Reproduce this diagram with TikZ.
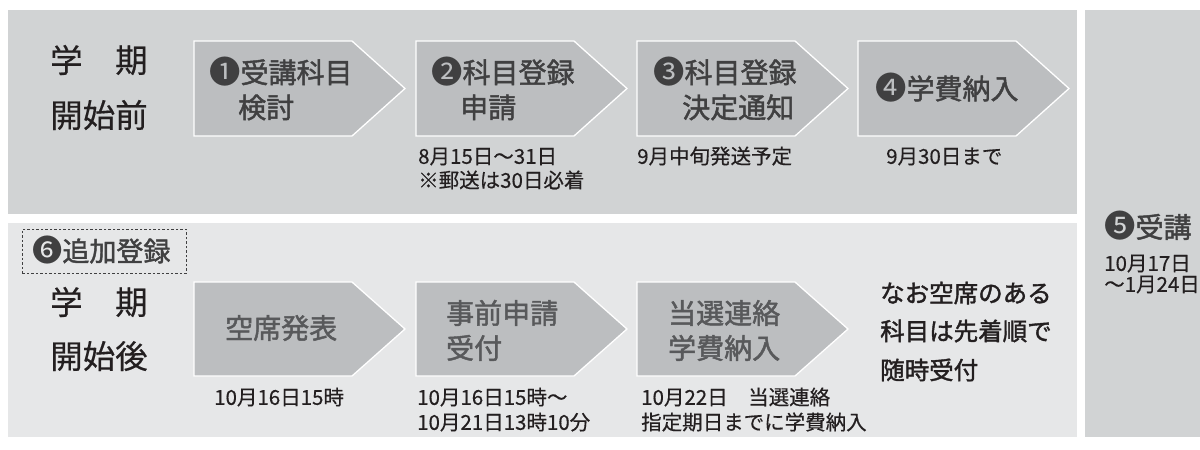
\documentclass[tikz,border=0pt]{standalone}
\usepackage{graphicx}
\usepackage{fontspec}
\setmainfont{Noto Sans CJK JP}[FakeBold=0.4]
\newfontfamily\medfont{Noto Sans CJK JP}[FakeBold=1.6]
\newfontfamily\cdfont{Noto Sans CJK JP}
\definecolor{panelA}{HTML}{D1D3D4}
\definecolor{panelB}{HTML}{E6E7E8}
\definecolor{chev}{HTML}{BCBEC0}
\definecolor{ink}{HTML}{231F20}
\definecolor{inkA}{HTML}{404041}
\definecolor{inkB}{HTML}{58595B}
\newcommand{\fs}[1]{\fontsize{#1}{#1}\selectfont}
\newcommand{\cdig}[1]{{\cdfont\scalebox{1.12}{#1}}}
\begin{document}
\begin{tikzpicture}[x=1pt,y=-1pt,
  txt/.style={inner sep=0pt,anchor=base west,text=ink},
  head/.style={txt,font=\fs{32.5}},
  chtxtA/.style={txt,font=\medfont\fs{28},text=inkA},
  chtxtB/.style={txt,font=\medfont\fs{28},text=inkB},
  datetxt/.style={txt,font=\fs{20.5}},
  note/.style={txt,font=\medfont\fs{24.5}},
  chevron/.style={fill=chev,draw=white,line width=1.3pt,line join=miter}]
\useasboundingbox (0,0) rectangle (1200,450);
\fill[white] (0,0) rectangle (1200,450);
% panels
\fill[panelA] (8,10) rectangle (1077,214);
\fill[panelB] (8,223) rectangle (1077,437);
\fill[panelA] (1085,10) rectangle (1210,437);
% chevrons
\foreach \x in {194,416,637,858}{
  \draw[chevron] (\x,41) -- (\x+158,41) -- (\x+211,88.5) -- (\x+158,136) -- (\x,136) -- cycle;
}
\foreach \x in {194,416,637}{
  \draw[chevron] (\x,282) -- (\x+158,282) -- (\x+211,329) -- (\x+158,376) -- (\x,376) -- cycle;
}
% headings
\node[head] (h1) at (50,72.4) {学　期};
\node[head] (h2) at (50,127.4) {開始前};
\node[head] (h3) at (50,314.4) {学　期};
\node[head] (h4) at (50,368.4) {開始後};
% top chevron texts
\node[chtxtA] (c1a) at (209,83) {\cdig{❶}受講科目};
\node[chtxtA] (c1b) at (238,118) {検討};
\node[chtxtA] (c2a) at (431,83) {\cdig{❷}科目登録};
\node[chtxtA] (c2b) at (460,118) {申請};
\node[chtxtA] (c3a) at (653,83) {\cdig{❸}科目登録};
\node[chtxtA] (c3b) at (682,118) {決定通知};
\node[chtxtA] (c4a) at (875,99.1) {\cdig{❹}学費納入};
% top dates
\node[datetxt] (d2a) at (418,163.8) {8月15日～31日};
\node[datetxt] (d2b) at (418,187.8) {※郵送は30日必着};
\node[datetxt] (d3a) at (637,163.8) {9月中旬発送予定};
\node[datetxt] (d4a) at (886,163.8) {9月30日まで};
% bottom
\node[draw=inkA,dash pattern=on 2.5pt off 2pt,line width=0.8pt,inner sep=0pt,
  minimum width=164pt,minimum height=44pt,anchor=north west] (add) at (22,229) {};
\node[txt,font=\medfont\fs{27},text=inkA] (addt) at (32,261.3) {\cdig{❻}追加登録};
\node[chtxtB] (e1a) at (225,338.6) {空席発表};
\node[chtxtB] (e2a) at (446,323.6) {事前申請};
\node[chtxtB] (e2b) at (446,358.6) {受付};
\node[chtxtB] (e3a) at (668,323.6) {当選連絡};
\node[chtxtB] (e3b) at (668,358.6) {学費納入};
\node[datetxt] (f1a) at (214,404.8) {10月16日15時};
\node[datetxt] (f2a) at (417,404.8) {10月16日15時～};
\node[datetxt] (f2b) at (417,429.8) {10月21日13時10分};
\node[datetxt] (f3a) at (641,404.8) {10月22日　当選連絡};
\node[datetxt] (f3b) at (641,429.8) {指定期日までに学費納入};
\node[note] (n1) at (880,302.3) {なお空席のある};
\node[note] (n2) at (880,340.3) {科目は先着順で};
\node[note] (n3) at (880,379.3) {随時受付};
% right panel
\node[txt,font=\medfont\fs{28},text=inkA] (r1) at (1104,237.6) {\cdig{❺}受講};
\node[datetxt] (r2) at (1104,270.8) {10月17日};
\node[datetxt] (r3) at (1104,291.8) {～1月24日};
\end{tikzpicture}
\end{document}
